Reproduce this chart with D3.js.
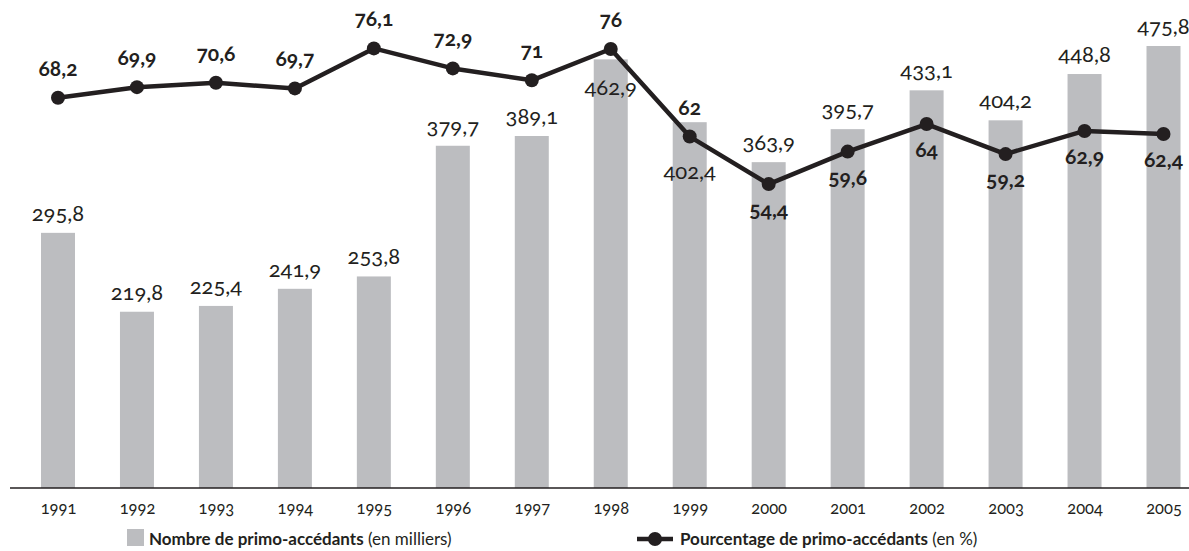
<!DOCTYPE html>
<html>
<head>
<meta charset="utf-8">
<script src="https://cdn.jsdelivr.net/npm/d3@7"></script>
<style>
  body { margin: 0; background: #fff; }
  svg text { font-family: Lato, "Open Sans", sans-serif; fill: #231f20; font-variant-numeric: oldstyle-nums; }
</style>
</head>
<body>
<div id="chart"></div>
<script>
// Data
var years = ["1991", "1992", "1993", "1994", "1995", "1996", "1997", "1998", "1999", "2000", "2001", "2002", "2003", "2004", "2005"];
var nombre = [295.8, 219.8, 225.4, 241.9, 253.8, 379.7, 389.1, 462.9, 402.4, 363.9, 395.7, 433.1, 404.2, 448.8, 475.8];
var pourcentage = [68.2, 69.9, 70.6, 69.7, 76.1, 72.9, 71, 76, 62, 54.4, 59.6, 64, 59.2, 62.9, 62.4];

var width = 1189, height = 551;
var baseY = 488;

var fmt = function (v) { return String(v).replace(".", ","); };

var svg = d3.select("#chart")
  .append("svg")
  .attr("width", width)
  .attr("height", height);

// X: one point per year (bar centres)
var x = d3.scalePoint()
  .domain(years)
  .range([58, 1163.5]);
var barW = 34;

// Y for bars (thousands) - axis line sits at 50
var yBar = d3.scaleLinear()
  .domain([50, 475.8])
  .range([baseY, 46]);

// Y for the percentage line
var yPct = d3.scaleLinear()
  .domain([5.8, 76.1])
  .range([baseY, 48.4]);

// Bars
svg.append("g")
  .selectAll("rect")
  .data(years)
  .enter()
  .append("rect")
  .attr("x", function (d) { return x(d) - barW / 2; })
  .attr("y", function (d, i) { return yBar(nombre[i]); })
  .attr("width", barW)
  .attr("height", function (d, i) { return baseY - yBar(nombre[i]); })
  .attr("fill", "#bcbdc0");

// Axis line
svg.append("line")
  .attr("x1", 10).attr("x2", width)
  .attr("y1", baseY).attr("y2", baseY)
  .attr("stroke", "#231f20")
  .attr("stroke-width", 1.5);

// Year labels
var xAxis = d3.axisBottom(x).tickSize(0).tickPadding(14);
var gx = svg.append("g")
  .attr("transform", "translate(0," + baseY + ")")
  .call(xAxis);
gx.select(".domain").remove();
gx.selectAll("text")
  .style("font-size", "16.5px")
  .attr("fill", "#231f20");

// Bar value labels (1998 and 1999 sit inside the bar, under the line)
svg.append("g")
  .selectAll("text")
  .data(years)
  .enter()
  .append("text")
  .attr("x", function (d) { return x(d); })
  .attr("y", function (d, i) {
    if (d === "1998") return yBar(nombre[i]) + 36;
    if (d === "1999") return yBar(nombre[i]) + 57;
    return yBar(nombre[i]) - 12;
  })
  .attr("text-anchor", "middle")
  .style("font-size", "22px")
  .text(function (d, i) { return fmt(nombre[i]); });

// Line
var line = d3.line()
  .x(function (d, i) { return x(years[i]); })
  .y(function (d) { return yPct(d); });

svg.append("path")
  .datum(pourcentage)
  .attr("d", line)
  .attr("fill", "none")
  .attr("stroke", "#231f20")
  .attr("stroke-width", 4.5)
  .attr("stroke-linejoin", "round");

svg.append("g")
  .selectAll("circle")
  .data(pourcentage)
  .enter()
  .append("circle")
  .attr("cx", function (d, i) { return x(years[i]); })
  .attr("cy", function (d) { return yPct(d); })
  .attr("r", 7)
  .attr("fill", "#231f20");

// Percentage labels: above up to 1999, below afterwards
svg.append("g")
  .selectAll("text")
  .data(pourcentage)
  .enter()
  .append("text")
  .attr("x", function (d, i) { return x(years[i]); })
  .attr("y", function (d, i) { return i < 9 ? yPct(d) - 22 : yPct(d) + 33; })
  .attr("text-anchor", "middle")
  .style("font-size", "21px")
  .style("font-weight", "bold")
  .text(function (d) { return fmt(d); });

// Legend
var leg = svg.append("g");
leg.append("rect")
  .attr("x", 127).attr("y", 529)
  .attr("width", 17).attr("height", 17)
  .attr("fill", "#bcbdc0");
var t1 = leg.append("text")
  .attr("x", 149).attr("y", 545)
  .style("font-size", "17px");
t1.append("tspan").style("font-weight", "bold").text("Nombre de primo-accédants");
t1.append("tspan").text(" (en milliers)");

leg.append("line")
  .attr("x1", 637).attr("x2", 673)
  .attr("y1", 539).attr("y2", 539)
  .attr("stroke", "#231f20")
  .attr("stroke-width", 4.5);
leg.append("circle")
  .attr("cx", 655).attr("cy", 539).attr("r", 7)
  .attr("fill", "#231f20");
var t2 = leg.append("text")
  .attr("x", 680).attr("y", 545)
  .style("font-size", "17px");
t2.append("tspan").style("font-weight", "bold").text("Pourcentage de primo-accédants");
t2.append("tspan").text(" (en %)");
</script>
</body>
</html>
